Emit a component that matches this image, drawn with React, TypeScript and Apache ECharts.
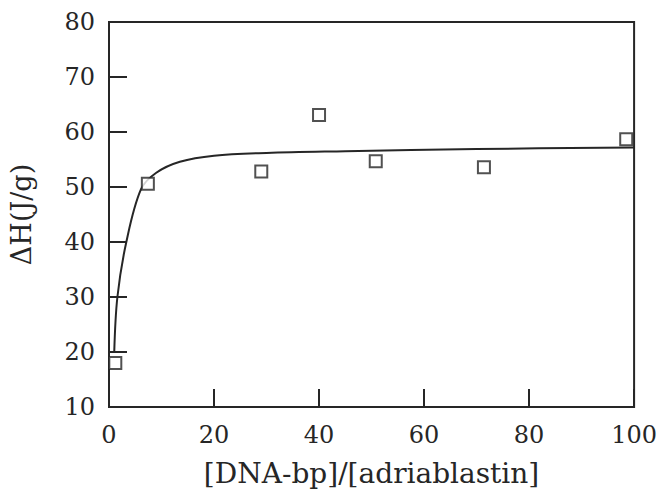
import React, { useEffect, useRef } from "react";
import * as echarts from "echarts";

const pointX = [1.2, 7.4, 29, 40, 50.8, 71.4, 98.5];
const pointY = [18, 50.6, 52.8, 63.1, 54.7, 53.6, 58.7];

const curveX = [1, 1.6, 3.3, 6.1, 9, 13.5, 20, 30, 45, 70, 100];
const curveY = [20, 30, 40, 49.6, 52.6, 54.6, 55.7, 56.2, 56.5, 56.9, 57.2];

const yTicks = [10, 20, 30, 40, 50, 60, 70, 80];
const xTicks = [0, 20, 40, 60, 80, 100];

const xTitle = "[DNA-bp]/[adriablastin]";
const yTitle = "ΔH(J/g)";

const INK = "#262626";
const FONT = "DejaVu Serif";

export default function App() {
  const ref = useRef<HTMLDivElement>(null);
  useEffect(() => {
    document.body.style.margin = "0";
    if (!ref.current) return;
    const chart = echarts.init(ref.current, undefined, { renderer: "svg" });
    chart.setOption({
      animation: false,
      backgroundColor: "#ffffff",
      grid: {
        left: 107,
        right: 13,
        top: 22,
        bottom: 86,
        show: true,
        borderColor: INK,
        borderWidth: 2,
        backgroundColor: "transparent",
      },
      xAxis: {
        type: "value",
        min: xTicks[0],
        max: xTicks[xTicks.length - 1],
        interval: 20,
        name: xTitle,
        nameLocation: "middle",
        nameGap: 52,
        nameTextStyle: { fontFamily: FONT, fontSize: 28, color: INK },
        axisLine: { show: true, lineStyle: { color: INK, width: 2 } },
        axisTick: { show: true, inside: true, length: 18, lineStyle: { color: INK, width: 2 } },
        axisLabel: { fontFamily: FONT, fontSize: 24, color: INK, margin: 16 },
        splitLine: { show: false },
      },
      yAxis: {
        type: "value",
        min: yTicks[0],
        max: yTicks[yTicks.length - 1],
        interval: 10,
        name: yTitle,
        nameLocation: "middle",
        nameGap: 74,
        nameRotate: 90,
        nameTextStyle: { fontFamily: FONT, fontSize: 27, color: INK },
        axisLine: { show: true, lineStyle: { color: INK, width: 2 } },
        axisTick: { show: true, inside: true, length: 18, lineStyle: { color: INK, width: 2 } },
        axisLabel: { fontFamily: FONT, fontSize: 24, color: INK, margin: 14 },
        splitLine: { show: false },
      },
      series: [
        {
          type: "line",
          data: curveX.map((x, i) => [x, curveY[i]]),
          smooth: 0.35,
          showSymbol: false,
          symbol: "none",
          lineStyle: { color: INK, width: 2 },
          z: 2,
        },
        {
          type: "scatter",
          data: pointX.map((x, i) => [x, pointY[i]]),
          symbol: "rect",
          symbolSize: 12,
          itemStyle: { color: "#ffffff", borderColor: INK, borderWidth: 2 },
          z: 3,
        },
      ],
    });
    return () => chart.dispose();
  }, []);
  return <div ref={ref} style={{ width: 660, height: 493 }} />;
}
